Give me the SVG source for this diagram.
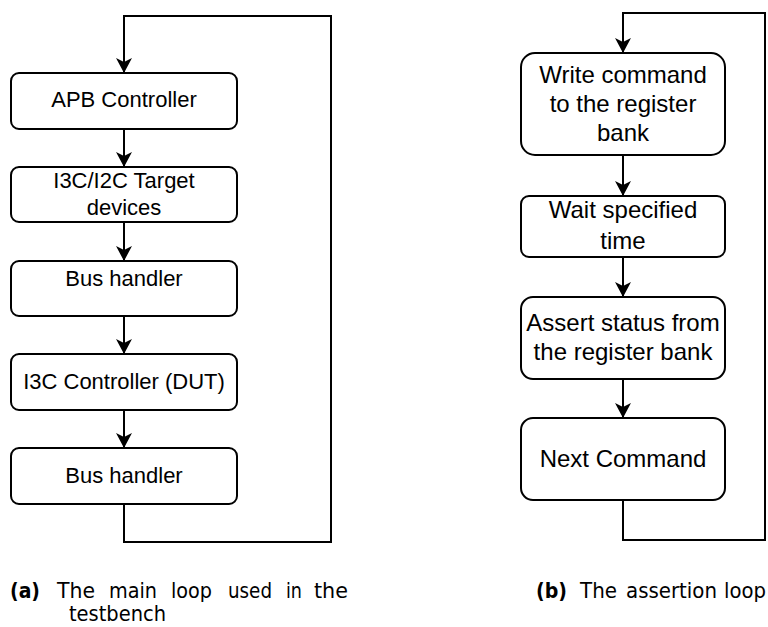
<svg xmlns="http://www.w3.org/2000/svg" width="768" height="627" viewBox="0 0 768 627">
<style>
.box{fill:#fff;stroke:#000;stroke-width:2}
.t{font-family:"Liberation Sans",Arial,sans-serif;fill:#000;text-anchor:middle}
.l{font-size:22px}
.r{font-size:24px}
.c{font-family:"DejaVu Sans","Liberation Sans",sans-serif;font-size:21px;fill:#000}
.cb{font-weight:bold}
.ln{fill:none;stroke:#000;stroke-width:2}
</style>
<defs>
<marker id="ah" viewBox="0 0 15 16" refX="14" refY="8" markerWidth="15" markerHeight="16" markerUnits="userSpaceOnUse" orient="auto">
<path d="M0,0 L15,8 L0,16 L4,8 Z" fill="#000"/>
</marker>
</defs>
<g id="connectors">
<path class="ln" d="M124,129 V166" marker-end="url(#ah)"/>
<path class="ln" d="M124,222 V260" marker-end="url(#ah)"/>
<path class="ln" d="M124,316 V353" marker-end="url(#ah)"/>
<path class="ln" d="M124,410 V447" marker-end="url(#ah)"/>
<path class="ln" d="M124,504 V542 H331 V16 H124 V72" marker-end="url(#ah)"/>
<path class="ln" d="M623,155 V195" marker-end="url(#ah)"/>
<path class="ln" d="M623,257 V296" marker-end="url(#ah)"/>
<path class="ln" d="M623,379 V417" marker-end="url(#ah)"/>
<path class="ln" d="M623,500 V540 H765 V13 H623 V52" marker-end="url(#ah)"/>
</g>
<g id="n1"><rect class="box" x="11" y="73" width="226" height="56" rx="8"/><text class="t l" x="124" y="107">APB Controller</text></g>
<g id="n2"><rect class="box" x="11" y="167" width="226" height="55" rx="8"/><text class="t l" x="124" y="188">I3C/I2C Target</text><text class="t l" x="124" y="215">devices</text></g>
<g id="n3"><rect class="box" x="11" y="261" width="226" height="55" rx="8"/><text class="t l" x="124" y="286">Bus handler</text></g>
<g id="n4"><rect class="box" x="11" y="354" width="226" height="56" rx="8"/><text class="t l" x="124" y="389">I3C Controller (DUT)</text></g>
<g id="n5"><rect class="box" x="11" y="448" width="226" height="56" rx="8"/><text class="t l" x="124" y="483">Bus handler</text></g>
<g id="m1"><rect class="box" x="521" y="53" width="204" height="102" rx="14"/><text class="t r" x="623" y="83">Write command</text><text class="t r" x="623" y="112">to the register</text><text class="t r" x="623" y="141">bank</text></g>
<g id="m2"><rect class="box" x="521" y="196" width="204" height="61" rx="8"/><text class="t r" x="623" y="218">Wait specified</text><text class="t r" x="623" y="249">time</text></g>
<g id="m3"><rect class="box" x="521" y="297" width="204" height="82" rx="12"/><text class="t r" x="623" y="331">Assert status from</text><text class="t r" x="623" y="360">the register bank</text></g>
<g id="m4"><rect class="box" x="521" y="418" width="204" height="82" rx="12"/><text class="t r" x="623" y="467">Next Command</text></g>
<g id="captions">
<text class="c cb" x="10" y="598" textLength="30" lengthAdjust="spacingAndGlyphs">(a)</text>
<text class="c" x="57" y="598" textLength="38" lengthAdjust="spacingAndGlyphs">The</text>
<text class="c" x="109" y="598" textLength="48" lengthAdjust="spacingAndGlyphs">main</text>
<text class="c" x="171" y="598" textLength="41" lengthAdjust="spacingAndGlyphs">loop</text>
<text class="c" x="228" y="598" textLength="44" lengthAdjust="spacingAndGlyphs">used</text>
<text class="c" x="286" y="598" textLength="16" lengthAdjust="spacingAndGlyphs">in</text>
<text class="c" x="314" y="598" textLength="34" lengthAdjust="spacingAndGlyphs">the</text>
<text class="c" x="69" y="621" textLength="97" lengthAdjust="spacingAndGlyphs">testbench</text>
<text class="c cb" x="536" y="598" textLength="31" lengthAdjust="spacingAndGlyphs">(b)</text>
<text class="c" x="580" y="598" textLength="37" lengthAdjust="spacingAndGlyphs">The</text>
<text class="c" x="626" y="598" textLength="91" lengthAdjust="spacingAndGlyphs">assertion</text>
<text class="c" x="724" y="598" textLength="42" lengthAdjust="spacingAndGlyphs">loop</text>
</g>
</svg>
